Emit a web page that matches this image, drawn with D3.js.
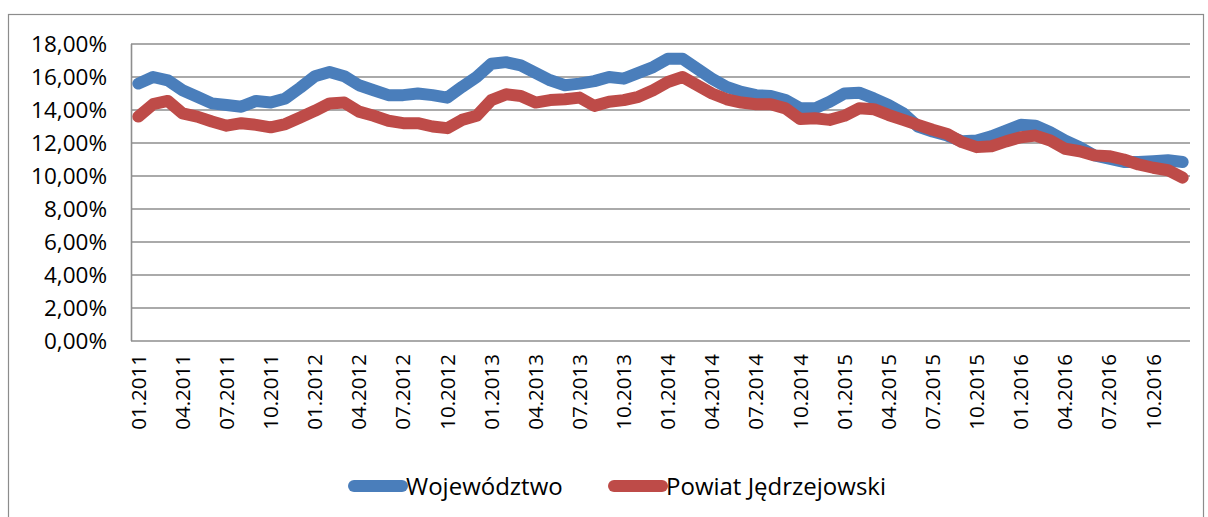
<!DOCTYPE html>
<html>
<head>
<meta charset="utf-8">
<script src="https://cdn.jsdelivr.net/npm/d3@7"></script>
<style>
  body { margin: 0; background: #fff; }
  text { font-family: "Open Sans", "Noto Sans", sans-serif; fill: #000; }
</style>
</head>
<body>
<div id="vis"></div>
<script>
// months 01.2011 .. 12.2016
var months = [
  "01.2011","02.2011","03.2011","04.2011","05.2011","06.2011","07.2011","08.2011","09.2011","10.2011","11.2011","12.2011",
  "01.2012","02.2012","03.2012","04.2012","05.2012","06.2012","07.2012","08.2012","09.2012","10.2012","11.2012","12.2012",
  "01.2013","02.2013","03.2013","04.2013","05.2013","06.2013","07.2013","08.2013","09.2013","10.2013","11.2013","12.2013",
  "01.2014","02.2014","03.2014","04.2014","05.2014","06.2014","07.2014","08.2014","09.2014","10.2014","11.2014","12.2014",
  "01.2015","02.2015","03.2015","04.2015","05.2015","06.2015","07.2015","08.2015","09.2015","10.2015","11.2015","12.2015",
  "01.2016","02.2016","03.2016","04.2016","05.2016","06.2016","07.2016","08.2016","09.2016","10.2016","11.2016","12.2016"
];

// stopa bezrobocia, %
var wojewodztwo = [
  15.6, 16.0, 15.8, 15.2, 14.8, 14.4, 14.3, 14.2, 14.55, 14.45, 14.7, 15.35,
  16.05, 16.3, 16.05, 15.5, 15.2, 14.9, 14.9, 15.0, 14.9, 14.75, 15.4, 16.0,
  16.8, 16.9, 16.7, 16.25, 15.8, 15.5, 15.6, 15.75, 16.0, 15.9, 16.25, 16.6,
  17.1, 17.1, 16.5, 15.9, 15.4, 15.1, 14.9, 14.85, 14.6, 14.1, 14.1, 14.5,
  15.0, 15.05, 14.7, 14.3, 13.8, 13.0, 12.7, 12.45, 12.1, 12.15, 12.4, 12.75,
  13.1, 13.05, 12.65, 12.15, 11.75, 11.25, 11.05, 10.85, 10.85, 10.9, 10.95, 10.85
];
var powiat = [
  13.6, 14.35, 14.55, 13.8, 13.6, 13.3, 13.05, 13.2, 13.1, 12.95, 13.15, 13.55,
  13.95, 14.4, 14.45, 13.9, 13.65, 13.35, 13.2, 13.2, 13.0, 12.9, 13.4, 13.65,
  14.6, 14.95, 14.85, 14.45, 14.6, 14.65, 14.75, 14.25, 14.5, 14.6, 14.8, 15.2,
  15.7, 16.0, 15.5, 15.0, 14.65, 14.45, 14.35, 14.35, 14.1, 13.45, 13.5, 13.4,
  13.65, 14.1, 14.05, 13.7, 13.4, 13.1, 12.8, 12.55, 12.05, 11.75, 11.8, 12.1,
  12.35, 12.45, 12.15, 11.65, 11.5, 11.25, 11.2, 11.0, 10.7, 10.5, 10.35, 9.9
];
var yTicks = [0, 2, 4, 6, 8, 10, 12, 14, 16, 18];
var seriesNames = ["Województwo", "Powiat Jędrzejowski"];
var colors = ["#4a7ebb", "#be4b48"];

var W = 1208, H = 517;
var svg = d3.select("#vis").append("svg")
    .attr("width", W).attr("height", H);

// chart border
svg.append("rect")
    .attr("x", 8.5).attr("y", 14.5)
    .attr("width", 1195).attr("height", 520)
    .attr("fill", "none").attr("stroke", "#8c8c8c").attr("stroke-width", 1.2);

var x = d3.scaleBand().domain(months).range([131, 1190]);
var y = d3.scaleLinear().domain([0, 18]).range([341, 44]);

// gridlines
svg.append("g").selectAll("line")
    .data(yTicks).enter().append("line")
    .attr("x1", 131).attr("x2", 1190)
    .attr("y1", function(d){ return y(d); })
    .attr("y2", function(d){ return y(d); })
    .attr("stroke", "#8e8e8e").attr("stroke-width", 1.6);

// left axis line
svg.append("line")
    .attr("x1", 131.5).attr("x2", 131.5)
    .attr("y1", y(18)).attr("y2", y(0))
    .attr("stroke", "#8e8e8e").attr("stroke-width", 1.6);

// y labels
svg.append("g").selectAll("text")
    .data(yTicks).enter().append("text")
    .attr("x", 107)
    .attr("y", function(d){ return y(d); })
    .attr("dy", "0.36em")
    .attr("text-anchor", "end")
    .style("font-size", "22.5px")
    .text(function(d){ return d.toFixed(2).replace(".", ",") + "%"; });

// x labels (every 3rd month)
svg.append("g").selectAll("text")
    .data(months.filter(function(d, i){ return i % 3 === 0; }))
    .enter().append("text")
    .attr("transform", function(d){
        return "translate(" + (x(d) + x.bandwidth() / 2) + ",354) rotate(-90)";
    })
    .attr("dy", "0.36em")
    .attr("text-anchor", "end")
    .style("font-size", "20.5px")
    .text(function(d){ return d; });

// lines
var line = d3.line()
    .x(function(d, i){ return x(months[i]) + x.bandwidth() / 2; })
    .y(function(d){ return y(d); });

[wojewodztwo, powiat].forEach(function(s, k){
    svg.append("path")
        .datum(s)
        .attr("d", line)
        .attr("fill", "none")
        .attr("stroke", colors[k])
        .attr("stroke-width", 12)
        .attr("stroke-linejoin", "round")
        .attr("stroke-linecap", "round");
});

// legend
var legendX = [354, 614];
seriesNames.forEach(function(name, k){
    var g = svg.append("g").attr("transform", "translate(" + legendX[k] + ",486)");
    g.append("line")
        .attr("x1", 0).attr("x2", 48)
        .attr("stroke", colors[k]).attr("stroke-width", 12)
        .attr("stroke-linecap", "round");
    g.append("text")
        .attr("x", 52).attr("dy", "0.36em")
        .style("font-size", "24px")
        .text(name);
});
</script>
</body>
</html>
